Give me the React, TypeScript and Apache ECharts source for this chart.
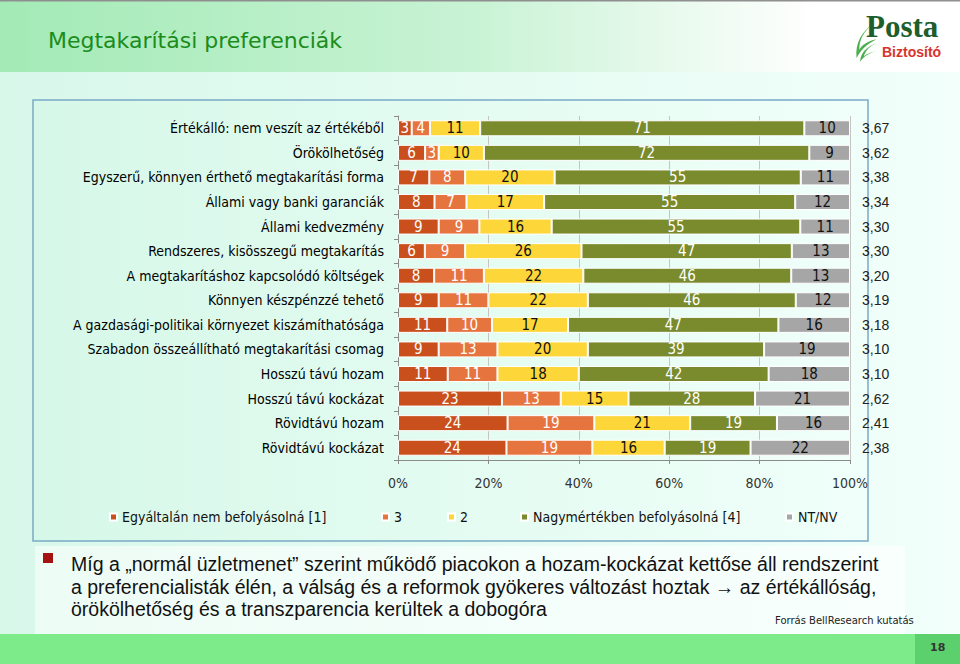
import React, { useEffect, useRef } from "react";
import * as echarts from "echarts";

const categories = [
  "Értékálló: nem veszít az értékéből",
  "Örökölhetőség",
  "Egyszerű, könnyen érthető megtakarítási forma",
  "Állami vagy banki garanciák",
  "Állami kedvezmény",
  "Rendszeres, kisösszegű megtakarítás",
  "A megtakarításhoz kapcsolódó költségek",
  "Könnyen készpénzzé tehető",
  "A gazdasági-politikai környezet kiszámíthatósága",
  "Szabadon összeállítható megtakarítási csomag",
  "Hosszú távú hozam",
  "Hosszú távú kockázat",
  "Rövidtávú hozam",
  "Rövidtávú kockázat",
];

const seriesNames = [
  "Egyáltalán nem befolyásolná [1]",
  "3",
  "2",
  "Nagymértékben befolyásolná [4]",
  "NT/NV",
];

const valuesNotAtAll = [3, 6, 7, 8, 9, 6, 8, 9, 11, 9, 11, 23, 24, 24];
const valuesThree = [4, 3, 8, 7, 9, 9, 11, 11, 10, 13, 11, 13, 19, 19];
const valuesTwo = [11, 10, 20, 17, 16, 26, 22, 22, 17, 20, 18, 15, 21, 16];
const valuesGreatly = [71, 72, 55, 55, 55, 47, 46, 46, 47, 39, 42, 28, 19, 19];
const valuesNoAnswer = [10, 9, 11, 12, 11, 13, 13, 12, 16, 19, 18, 21, 16, 22];

const means = ["3,67", "3,62", "3,38", "3,34", "3,30", "3,30", "3,20", "3,19", "3,18", "3,10", "3,10", "2,62", "2,41", "2,38"];

const xTicks = [0, 20, 40, 60, 80, 100];

const colors = ["#c9501c", "#e6743f", "#fdd73a", "#7a8b2d", "#a6a6a6"];
const labelColors = ["#ffffff", "#ffffff", "#111111", "#ffffff", "#111111"];
const legendLefts = [104, 376, 442, 515, 780];

const FONT = "'Liberation Sans Narrow', 'DejaVu Sans Condensed', 'Arial Narrow', sans-serif";

const leafPath =
  "M22 0 C10 8 2 20 4 36 C8 28 14 22 26 16 C16 18 10 22 7 27 C7 16 12 8 22 0 Z M26 20 C16 24 8 30 8 40 C12 34 18 30 30 28 C22 29 16 31 12 34 C14 28 19 23 26 20 Z";

export default function App() {
  const ref = useRef<HTMLDivElement>(null);

  useEffect(() => {
    if (!ref.current) return;
    echarts.graphic.registerShape("leaf", echarts.graphic.extendPath(leafPath, {}));
    const chart = echarts.init(ref.current, undefined, { renderer: "svg" });

    const raw = [valuesNotAtAll, valuesThree, valuesTwo, valuesGreatly, valuesNoAnswer];
    const totals = categories.map((_, i) => raw.reduce((s, arr) => s + arr[i], 0));

    const series = raw.map((arr, si) => ({
      name: seriesNames[si],
      type: "bar",
      stack: "total",
      barWidth: 16,
      yAxisIndex: 0,
      itemStyle: { color: colors[si], borderColor: "#ffffff", borderWidth: 1 },
      label: {
        show: true,
        position: "inside",
        color: labelColors[si],
        fontFamily: FONT,
        fontSize: 15,
        formatter: (p: any) => String(arr[p.dataIndex]),
      },
      data: arr.map((v, i) => (v * 100) / totals[i]),
    }));

    const legends = seriesNames.map((n, i) => ({
      data: [n],
      left: legendLefts[i],
      top: 505,
      icon: "rect",
      itemWidth: 7,
      itemHeight: 7,
      itemGap: 5,
      textStyle: { fontFamily: FONT, fontSize: 14, color: "#111" },
      selectedMode: false,
    }));

    const option: any = {
      animation: false,
      textStyle: { fontFamily: FONT },
      grid: { left: 398, right: 110, top: 116, bottom: 204, containLabel: false },
      legend: legends,
      xAxis: {
        type: "value",
        min: 0,
        max: 100,
        interval: 20,
        axisLine: { show: true, lineStyle: { color: "#8a8a8a" } },
        axisTick: { show: true, length: 4, lineStyle: { color: "#8a8a8a" } },
        splitLine: { show: true, lineStyle: { color: "#c4c4c4" } },
        axisLabel: {
          margin: 16,
          fontFamily: FONT,
          fontSize: 14,
          color: "#333",
          formatter: (v: number) => (xTicks.includes(v) ? v + "%" : ""),
        },
      },
      yAxis: [
        {
          type: "category",
          inverse: true,
          data: categories,
          axisLine: { show: true, lineStyle: { color: "#8a8a8a" } },
          axisTick: { show: true, length: 4, lineStyle: { color: "#8a8a8a" } },
          axisLabel: { margin: 14, fontFamily: FONT, fontSize: 14, color: "#000" },
        },
        {
          type: "category",
          inverse: true,
          position: "right",
          data: means,
          axisLine: { show: false },
          axisTick: { show: false },
          axisLabel: { margin: 12, fontFamily: "'Liberation Sans', Arial, sans-serif", fontSize: 14, color: "#222" },
        },
      ],
      series,
      graphic: [
        {
          type: "rect",
          z: -20,
          shape: { x: 0, y: 0, width: 960, height: 664 },
          style: {
            fill: new echarts.graphic.LinearGradient(0, 0, 1, 0, [
              { offset: 0, color: "#d8f8ea" },
              { offset: 1, color: "#f2fffb" },
            ]),
          },
        },
        {
          type: "rect",
          z: -19,
          shape: { x: 0, y: 1, width: 960, height: 71 },
          style: {
            fill: new echarts.graphic.LinearGradient(0, 0, 1, 0, [
              { offset: 0, color: "#a3eab6" },
              { offset: 0.5, color: "#c9f3d5" },
              { offset: 0.85, color: "#ffffff" },
              { offset: 1, color: "#ffffff" },
            ]),
          },
        },
        { type: "rect", z: -18, shape: { x: 0, y: 0, width: 960, height: 1.5 }, style: { fill: "#8f8f8f" } },
        {
          type: "text",
          z: 10,
          left: 48,
          top: 29,
          style: {
            text: "Megtakarítási preferenciák",
            fontFamily: "'DejaVu Sans', Verdana, sans-serif",
            fontSize: 22,
            fill: "#1b8c1b",
          },
        },
        { type: "leaf", z: 10, x: 853, y: 24, scaleX: 0.9, scaleY: 0.95, style: { fill: "#4caf50" } },
        {
          type: "text",
          z: 10,
          left: 866,
          top: 11,
          style: {
            text: "Posta",
            fontFamily: "'Liberation Serif', 'DejaVu Serif', serif",
            fontSize: 31,
            fontWeight: "bold",
            fill: "#1d5e2c",
          },
        },
        {
          type: "text",
          z: 10,
          left: 882,
          top: 45,
          style: {
            text: "Biztosító",
            fontFamily: "'Liberation Sans', Arial, sans-serif",
            fontSize: 14,
            fontWeight: "bold",
            fill: "#d8342c",
          },
        },
        {
          type: "rect",
          z: -17,
          shape: { x: 33, y: 100, width: 835, height: 441 },
          style: {
            fill: new echarts.graphic.LinearGradient(0, 0, 1, 0, [
              { offset: 0, color: "#d6f8e8" },
              { offset: 1, color: "#f0fffa" },
            ]),
            stroke: "#7aa9c6",
            lineWidth: 1.5,
          },
        },
        {
          type: "rect",
          z: -16,
          shape: { x: 35, y: 546, width: 870, height: 88 },
          style: { fill: "rgba(255,255,255,0.55)" },
        },
        { type: "rect", z: 10, shape: { x: 43, y: 553, width: 10, height: 10 }, style: { fill: "#a51212" } },
        {
          type: "text",
          z: 10,
          left: 71,
          top: 553,
          style: {
            text:
              "Míg a „normál üzletmenet” szerint működő piacokon a hozam-kockázat kettőse áll rendszerint\na preferencialisták élén, a válság és a reformok gyökeres változást hoztak → az értékállóság,\nörökölhetőség és a transzparencia kerültek a dobogóra",
            fontFamily: "'Liberation Sans', Arial, sans-serif",
            fontSize: 19.5,
            lineHeight: 22.5,
            fill: "#111",
          },
        },
        {
          type: "text",
          z: 10,
          left: 775,
          top: 615,
          style: {
            text: "Forrás BellResearch kutatás",
            fontFamily: "'DejaVu Sans', Verdana, sans-serif",
            fontSize: 10,
            fill: "#222",
          },
        },
        { type: "rect", z: -15, shape: { x: 0, y: 634, width: 960, height: 30 }, style: { fill: "#7eeb8a" } },
        { type: "rect", z: -14, shape: { x: 915, y: 634, width: 45, height: 30 }, style: { fill: "#5bd06c" } },
        {
          type: "text",
          z: 10,
          left: 930,
          top: 642,
          style: {
            text: "18",
            fontFamily: "'DejaVu Sans', Verdana, sans-serif",
            fontSize: 11,
            fontWeight: "bold",
            fill: "#333",
          },
        },
      ],
    };

    chart.setOption(option);
    return () => chart.dispose();
  }, []);

  return (
    <div
      ref={ref}
      style={{ position: "absolute", left: 0, top: 0, width: 960, height: 664 }}
    />
  );
}
